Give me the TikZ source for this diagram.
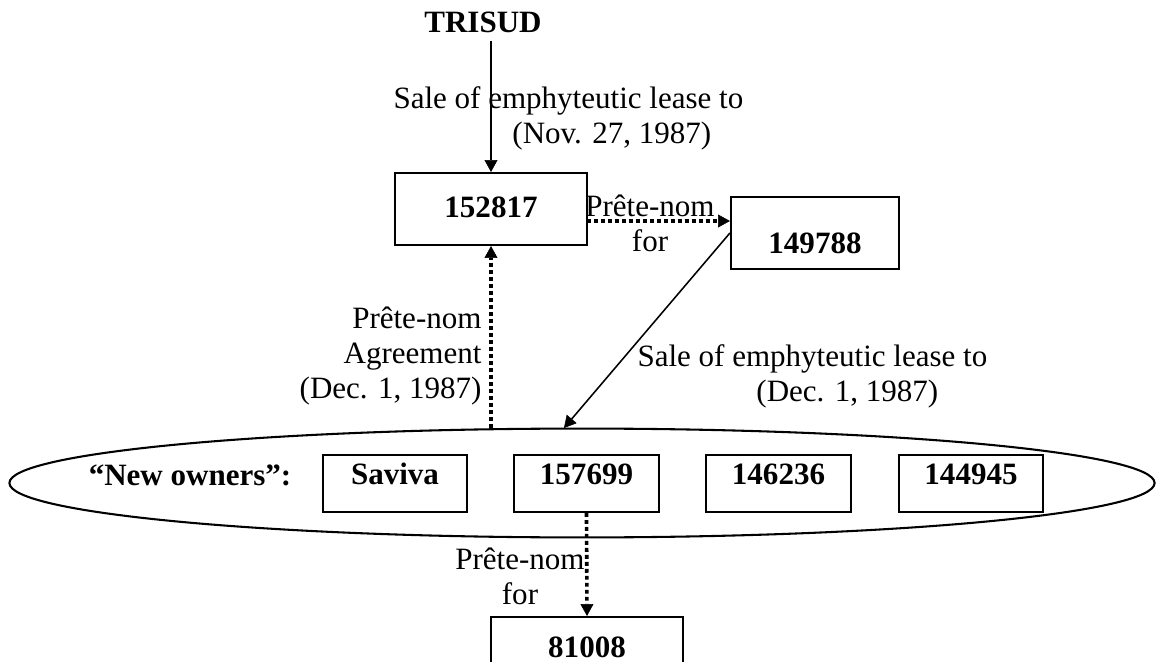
\documentclass[tikz,border=0pt]{standalone}
\usepackage{fontspec}
\setmainfont{Liberation Serif}
\usetikzlibrary{arrows.meta,shapes.geometric}

\tikzset{
	box/.style={draw, line width=0.8pt, inner sep=0pt, font=\fontsize{12}{13.6}\selectfont\bfseries},
	lbl/.style={inner sep=0pt, font=\fontsize{12}{13.6}\selectfont},
	sale/.style={line width=0.6pt, -{Triangle[length=4.6pt, width=5pt, line width=0.2pt]}},
	prete/.style={line width=1.4pt, dash pattern=on 1.5pt off 1.2pt,
		-{Triangle[length=4.6pt, width=5pt, line width=0.2pt]}}
}

\begin{document}
\begin{tikzpicture}[x=0.0136cm, y=-0.0136cm]
			%%%%% START %%%%%
			\useasboundingbox (0, 0) rectangle (1156, 662);
			\clip (0, 0) rectangle (1156, 662);
			
			\node[lbl, inner sep=2.8pt, font=\fontsize{12}{13.6}\selectfont\bfseries, anchor=base] (trisud) at (483, 33) {TRISUD};
			\node[box, minimum width=2.61cm, minimum height=0.979cm, text height=7.7pt, text depth=1.5pt] (b152817) at (491, 209) {152817};
			\node[box, minimum width=2.285cm, minimum height=0.979cm, text height=15.5pt, text depth=0pt] (b149788) at (815, 233) {149788};
			
			% the group of new owners
			\node[ellipse, draw, line width=0.8pt, inner sep=0pt, minimum width=15.57cm, minimum height=1.48cm] (owners) at (582, 483) {};
			\node[lbl, font=\fontsize{12}{13.6}\selectfont\bfseries] (ownlbl) at (190, 475) {“New owners”:};
			\node[box, minimum width=1.96cm, minimum height=0.775cm, text height=7.7pt, text depth=6.6pt] (saviva) at (395, 483.5) {Saviva};
			\node[box, minimum width=1.97cm, minimum height=0.775cm, text height=7.7pt, text depth=6.6pt] (b157699) at (586.5, 483.5) {157699};
			\node[box, minimum width=1.97cm, minimum height=0.775cm, text height=7.7pt, text depth=6.6pt] (b146236) at (778.5, 483.5) {146236};
			\node[box, minimum width=1.96cm, minimum height=0.775cm, text height=7.7pt, text depth=6.6pt] (b144945) at (971, 483.5) {144945};
			
			\node[box, minimum width=2.61cm, minimum height=0.979cm, text height=7.7pt, text depth=4pt] (b81008) at (587, 653) {81008};
			
			\coordinate (pnstart) at (587, 221);
			\coordinate (saleend) at (564, 428);
			
			% connectors
			\draw[sale] (trisud.south -| b152817.north) -- (b152817.north);
			\draw[prete] (pnstart) -- (pnstart -| b149788.west);
			\draw[sale] (b149788.west) -- (saleend);
			\draw[prete] (b152817.south |- owners.north) -- (b152817.south);
			\draw[prete] (b157699.south) -- (b81008.north);
			
			% labels
			\node[lbl, anchor=north west, align=left] (lblnov) at (393, 86) {Sale of emphyteutic lease to\\\hspace*{46pt}(Nov. 27, 1987)};
			\node[lbl, anchor=north, align=center] (lblpn1) at (650, 194) {Prête-nom\\for};
			\node[lbl, anchor=north east, align=right] (lblagr) at (482, 306) {Prête-nom\\Agreement\\(Dec. 1, 1987)};
			\node[lbl, anchor=north west, align=left] (lbldec) at (637, 344) {Sale of emphyteutic lease to\\\hspace*{46pt}(Dec. 1, 1987)};
			\node[lbl, anchor=north, align=center] (lblpn2) at (520, 547) {Prête-nom\\for};
			
			%%%%% END %%%%%
\end{tikzpicture}
\end{document}
